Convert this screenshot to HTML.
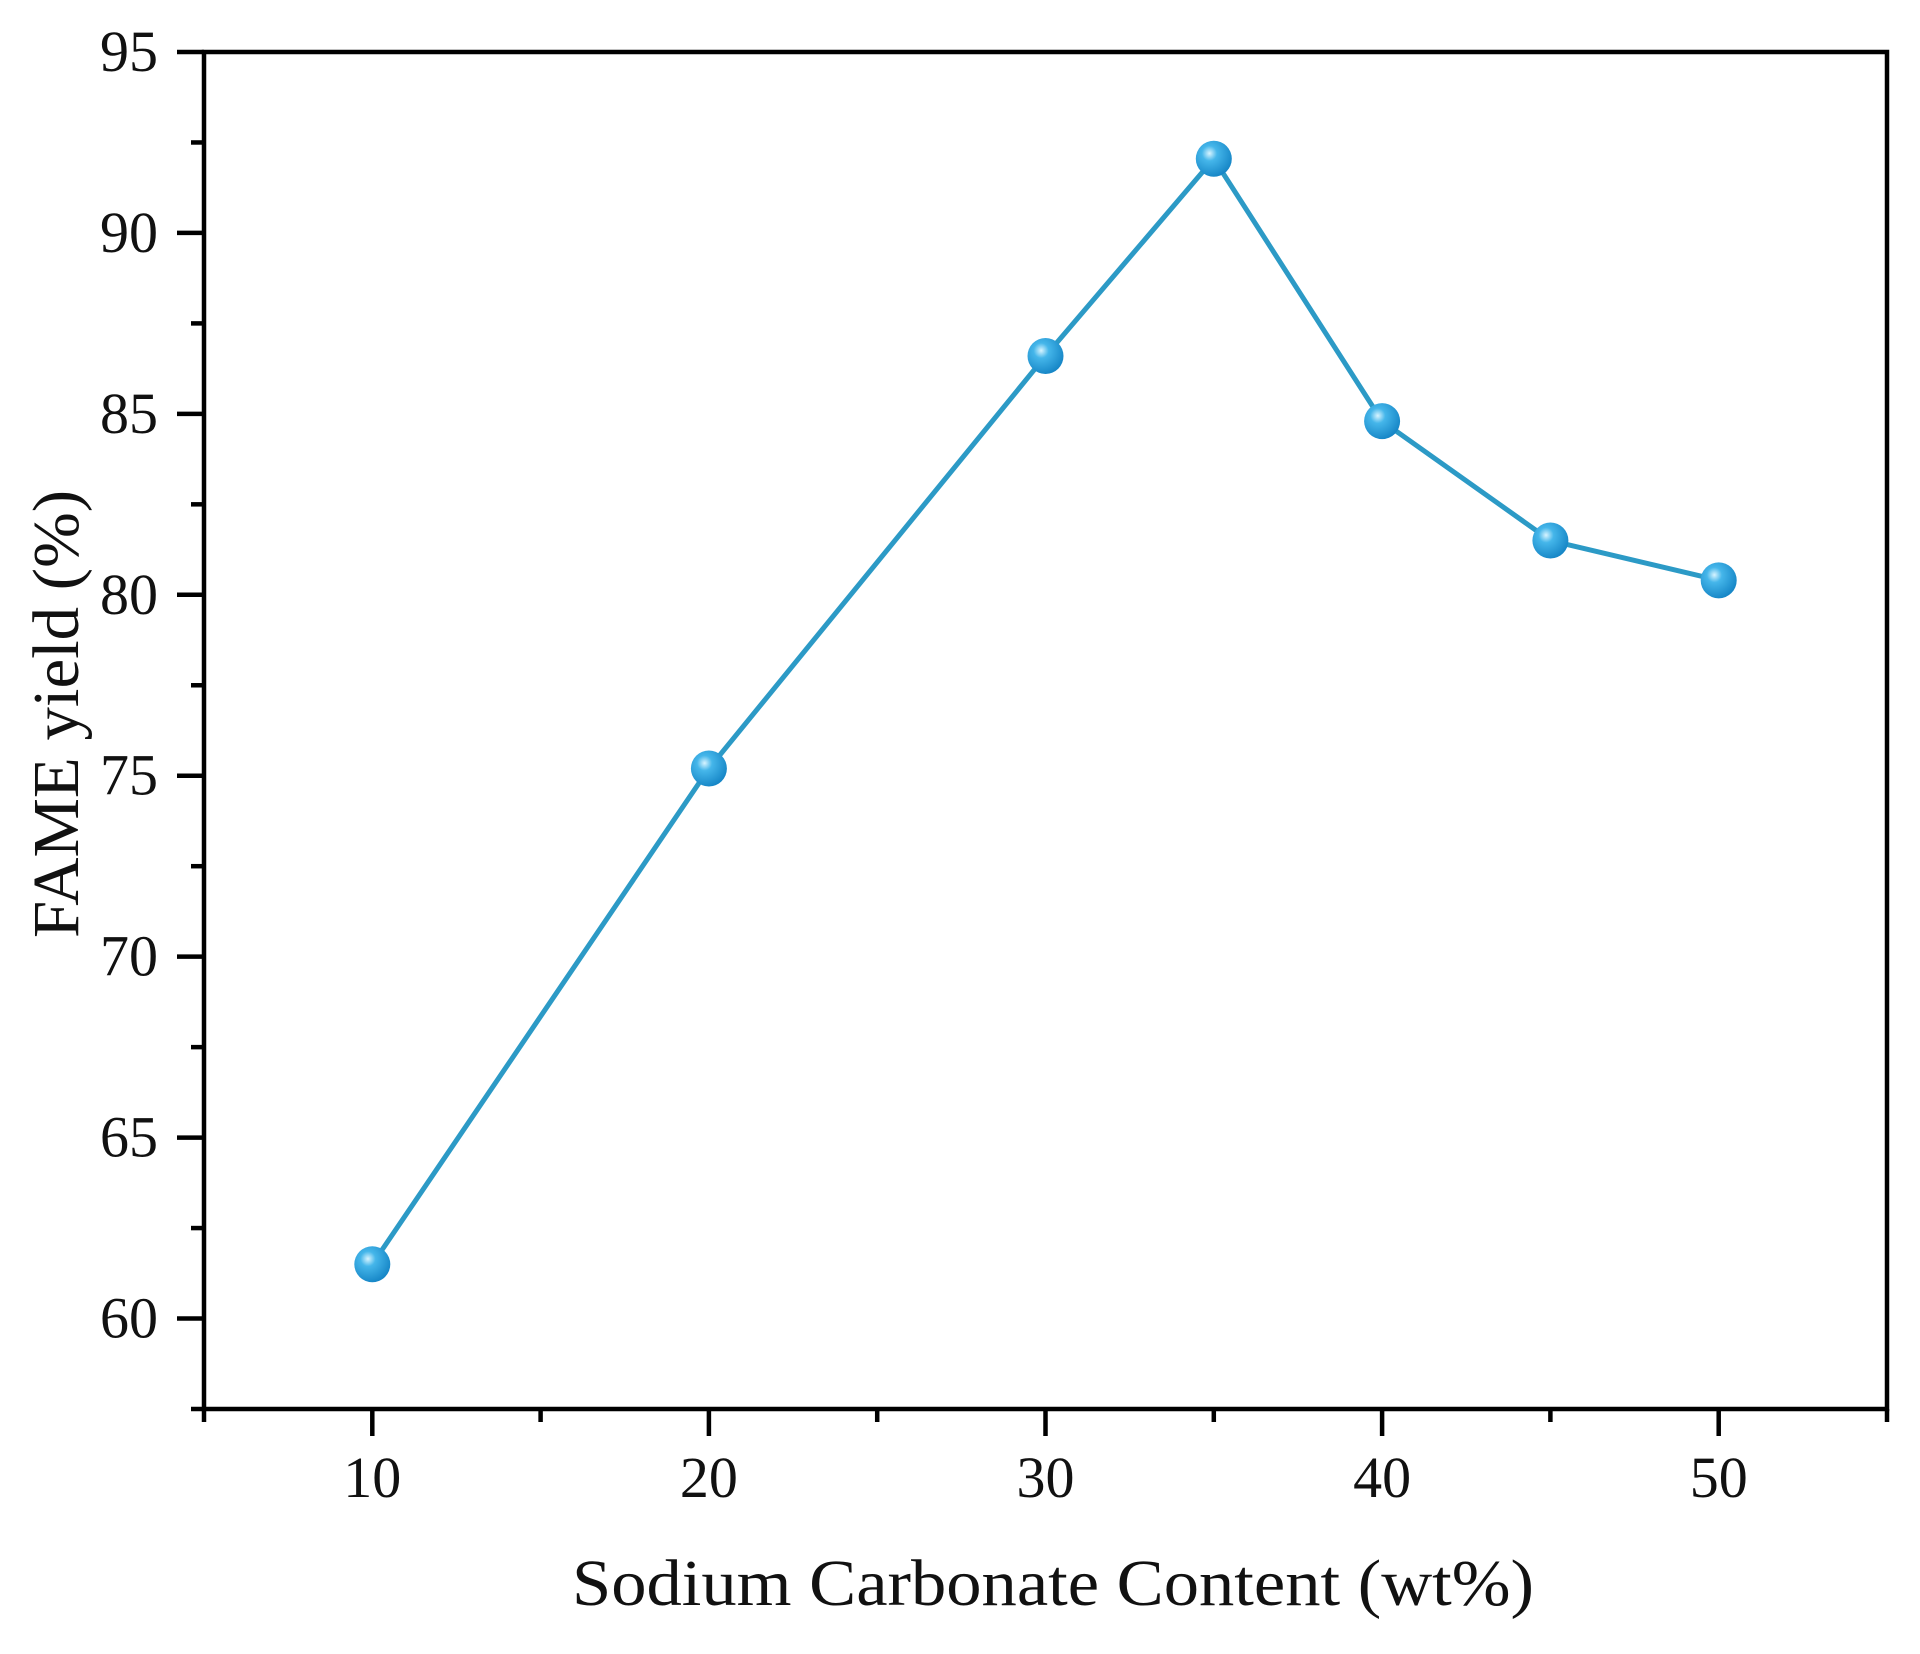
<!DOCTYPE html>
<html><head><meta charset="utf-8"><style>
html,body{margin:0;padding:0;background:#fff;}
svg{display:block;}
text{font-family:"Liberation Serif",serif;fill:#111;}
</style></head><body>
<svg id="chart" width="1920" height="1654" viewBox="0 0 1920 1654" xmlns="http://www.w3.org/2000/svg">
<defs>
<radialGradient id="ball" cx="0.38" cy="0.35" r="0.7">
<stop offset="0" stop-color="#d8f4ff"/>
<stop offset="0.3" stop-color="#45b6ea"/>
<stop offset="1" stop-color="#1383c4"/>
</radialGradient>
</defs>
<g id="axes"></g>
<g id="series"></g>
<text x="572" y="1605" font-size="66" textLength="962" lengthAdjust="spacingAndGlyphs">Sodium Carbonate Content (wt%)</text>
<text x="0" y="0" font-size="66" text-anchor="middle" textLength="448" lengthAdjust="spacingAndGlyphs" transform="translate(78,714) rotate(-90)">FAME yield (%)</text>
</svg>
<script>
const categories = [10, 20, 30, 35, 40, 45, 50];
const yieldValues = [61.5, 75.2, 86.6, 92.05, 84.8, 81.5, 80.4];
const xTickLabels = [10, 20, 30, 40, 50];
const yTickLabels = [60, 65, 70, 75, 80, 85, 90, 95];

const NS = 'http://www.w3.org/2000/svg';
const L = 204, R = 1887, T = 52, B = 1409;
const xMin = 5, xMax = 55, yMin = 57.5, yMax = 95;
const xs = v => L + (v - xMin) / (xMax - xMin) * (R - L);
const ys = v => B - (v - yMin) / (yMax - yMin) * (B - T);
function mk(tag, attrs, parent) {
  const e = document.createElementNS(NS, tag);
  for (const k in attrs) e.setAttribute(k, attrs[k]);
  parent.appendChild(e);
  return e;
}
const axes = document.getElementById('axes');
const series = document.getElementById('series');
const frame = mk('rect', {x: L, y: T, width: R - L, height: B - T, fill: 'none', stroke: '#000', 'stroke-width': 4.5}, axes);



for (let v = 5; v <= 55; v += 5) {
  const major = xTickLabels.includes(v);
  const t = mk('line', {x1: xs(v), x2: xs(v), y1: B, y2: B + (major ? 27 : 13), stroke: '#000', 'stroke-width': 4.5}, axes);
  
  
}
xTickLabels.forEach(v => {
  const tx = mk('text', {x: xs(v), y: 1497, 'font-size': 58, 'text-anchor': 'middle'}, axes);
  tx.textContent = v;
  
  
});
for (let v = 57.5; v <= 95; v += 2.5) {
  const major = yTickLabels.includes(v);
  const t = mk('line', {x1: L - (major ? 27 : 13), x2: L, y1: ys(v), y2: ys(v), stroke: '#000', 'stroke-width': 4.5}, axes);
  
  
}
yTickLabels.forEach(v => {
  const tx = mk('text', {x: 158, y: ys(v) + 19, 'font-size': 58, 'text-anchor': 'end'}, axes);
  tx.textContent = v;
  
  
});
const pts = categories.map((c, i) => xs(c) + ',' + ys(yieldValues[i])).join(' ');
const pl = mk('polyline', {points: pts, fill: 'none', stroke: '#2c9ac6', 'stroke-width': 5}, series);


categories.forEach((c, i) => {
  const p = mk('circle', {cx: xs(c), cy: ys(yieldValues[i]), r: 18, fill: 'url(#ball)'}, series);
  
  
});
</script>
</body></html>
